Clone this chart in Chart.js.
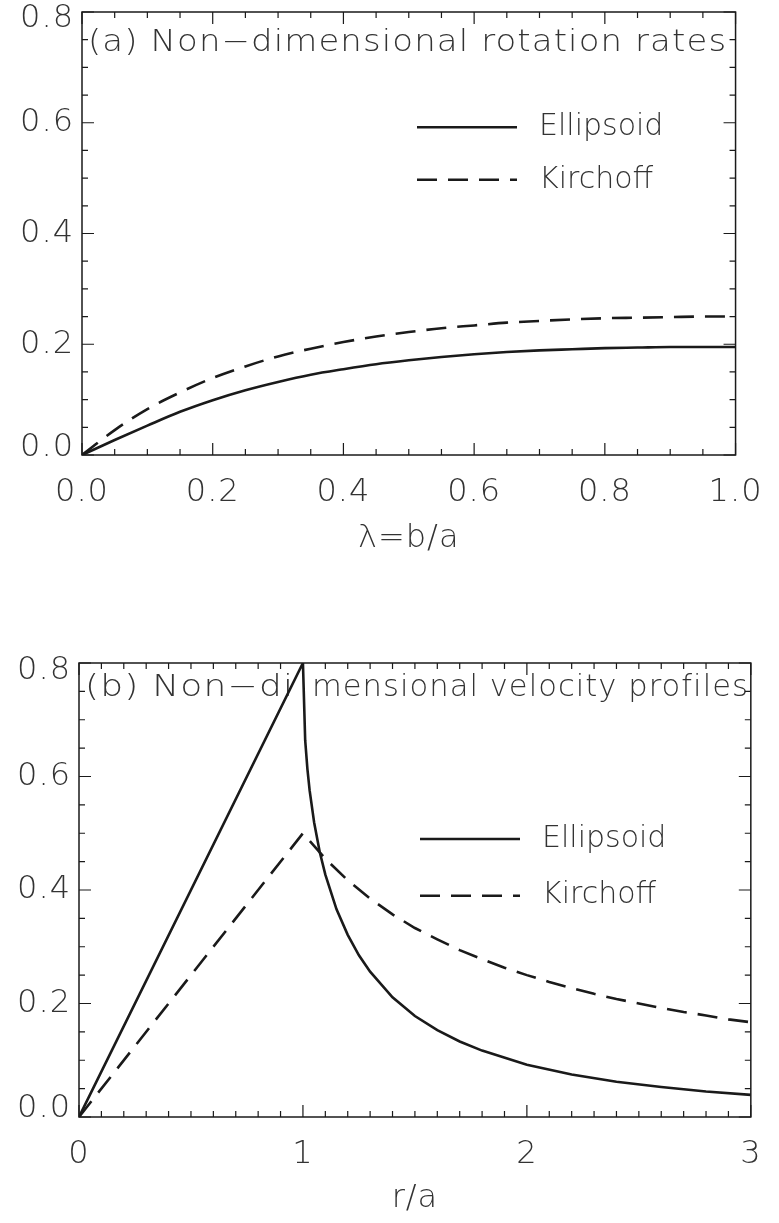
<!DOCTYPE html>
<html>
<head>
<meta charset="utf-8">
<script src="https://cdn.jsdelivr.net/npm/chart.js@4.4.0/dist/chart.umd.min.js"></script>
<style>
  html, body { margin: 0; padding: 0; background: #fff; }
  #wrapA { position: absolute; left: 0; top: -20px; width: 779px; height: 585px; }
  #wrapB { position: absolute; left: 0; top: 600px; width: 779px; height: 623px; }
</style>
</head>
<body>
<div id="wrapA"><canvas id="chartA"></canvas></div>
<div id="wrapB"><canvas id="chartB"></canvas></div>
<script>
// panel (a): rotation rates vs lambda = b/a
const lambdaVals    = [0, 0.05, 0.1, 0.15, 0.2, 0.25, 0.3, 0.35, 0.4, 0.45, 0.5, 0.55, 0.6, 0.65, 0.7, 0.75, 0.8, 0.85, 0.9, 0.95, 1.0]
const ellipsoidRate = [0, 0.027, 0.053, 0.078, 0.099, 0.117, 0.132, 0.145, 0.155, 0.164, 0.171, 0.177, 0.182, 0.186, 0.189, 0.191, 0.193, 0.194, 0.195, 0.195, 0.195]
const kirchoffRate  = [0, 0.045, 0.083, 0.113, 0.139, 0.160, 0.178, 0.192, 0.204, 0.214, 0.222, 0.229, 0.234, 0.239, 0.242, 0.245, 0.247, 0.248, 0.249, 0.250, 0.250]

// panel (b): velocity profiles vs r/a
const rEllipsoid    = [0, 1, 1.01, 1.02, 1.03, 1.05, 1.075, 1.1, 1.15, 1.2, 1.25, 1.3, 1.4, 1.5, 1.6, 1.7, 1.8, 2.0, 2.2, 2.4, 2.6, 2.8, 3.0]
const ellipsoidVel  = [0, 0.8, 0.664, 0.613, 0.575, 0.519, 0.467, 0.427, 0.366, 0.321, 0.285, 0.256, 0.211, 0.178, 0.153, 0.133, 0.117, 0.092, 0.075, 0.062, 0.053, 0.045, 0.039]
const rKirchoff     = [0, 1, 1.1, 1.2, 1.3, 1.4, 1.5, 1.6, 1.7, 1.8, 1.9, 2.0, 2.1, 2.2, 2.3, 2.4, 2.5, 2.6, 2.7, 2.8, 2.9, 3.0]
const kirchoffVel   = [0, 0.5, 0.455, 0.417, 0.385, 0.357, 0.333, 0.313, 0.294, 0.278, 0.263, 0.25, 0.238, 0.227, 0.217, 0.208, 0.2, 0.192, 0.185, 0.179, 0.172, 0.167]

const yTicks = [0, 0.2, 0.4, 0.6, 0.8]
const seriesNames = ['Ellipsoid', 'Kirchoff']

const FONT = "'DejaVu Sans', 'Liberation Sans', sans-serif"
const INK = '#1a1a1a'
const TXT = '#333'
const DASH = [20, 11]

function pts(xs, ys) {
    return xs.map((x, i) => ({ x: x, y: ys[i] }))
}

// frame, inward ticks (IDL style), panel title and legend
const idlFrame = {
    id: 'idlFrame',
    beforeDraw(chart) {
        // a little extra spacing, the Hershey font is wider
        chart.ctx.letterSpacing = '1px'
    },
    beforeDatasetsDraw(chart, args, o) {
        const ctx = chart.ctx
        const a = chart.chartArea
        const x = chart.scales.x
        ctx.save()
        ctx.fillStyle = TXT
        ctx.font = '200 30px ' + FONT
        ctx.textBaseline = 'middle'
        ctx.textAlign = 'left'
        o.title.forEach(p => {
            const x0 = (p.atX !== undefined) ? x.getPixelForValue(p.atX) + p.dx : a.left + p.dx
            ctx.save()
            ctx.translate(x0, a.top + o.titleDy)
            ctx.scale(p.sx, 1)
            ctx.fillText(p.text, 0, 0)
            ctx.restore()
        })
        ctx.restore()
    },
    afterDraw(chart, args, o) {
        const ctx = chart.ctx
        const a = chart.chartArea
        const x = chart.scales.x, y = chart.scales.y
        ctx.save()
        ctx.strokeStyle = INK
        ctx.lineWidth = 1.5
        ctx.strokeRect(a.left, a.top, a.right - a.left, a.bottom - a.top)
        ctx.lineWidth = 1.2
        ctx.beginPath()
        for (let i = 0; i <= o.xCount; i++) {
            const v = o.xMin + i * o.xMinor
            const px = x.getPixelForValue(v)
            const len = (i % o.xEvery === 0) ? 12 : 6
            ctx.moveTo(px, a.bottom); ctx.lineTo(px, a.bottom - len)
            ctx.moveTo(px, a.top); ctx.lineTo(px, a.top + len)
        }
        for (let i = 0; i <= 16; i++) {
            const py = y.getPixelForValue(i * 0.05)
            const len = (i % 4 === 0) ? 12 : 6
            ctx.moveTo(a.left, py); ctx.lineTo(a.left + len, py)
            ctx.moveTo(a.right, py); ctx.lineTo(a.right - len, py)
        }
        ctx.stroke()

        // legend
        ctx.letterSpacing = '0px'
        ctx.font = '200 30px ' + FONT
        ctx.textBaseline = 'middle'
        ctx.textAlign = 'left'
        chart.data.datasets.forEach((ds, i) => {
            const py = y.getPixelForValue(o.legendY[i])
            ctx.strokeStyle = INK
            ctx.lineWidth = 2.6
            ctx.setLineDash(ds.borderDash || [])
            ctx.beginPath()
            ctx.moveTo(o.legendX0, py); ctx.lineTo(o.legendX1, py)
            ctx.stroke()
            ctx.setLineDash([])
            ctx.fillStyle = TXT
            ctx.fillText(ds.label, o.legendX1 + 22, py)
        })
        ctx.restore()
    }
}

function makeChart(canvas, cfg) {
    return new Chart(canvas, {
        type: 'line',
        data: {
            datasets: [{
                label: seriesNames[0],
                data: cfg.solid,
                borderColor: INK,
                borderWidth: 2.6,
                pointRadius: 0,
                tension: cfg.tension,
                cubicInterpolationMode: cfg.mode
            }, {
                label: seriesNames[1],
                data: cfg.dashed,
                borderColor: INK,
                borderWidth: 2.6,
                borderDash: DASH,
                pointRadius: 0,
                tension: cfg.tension,
                cubicInterpolationMode: cfg.mode
            }]
        },
        options: {
            animation: false,
            responsive: true,
            maintainAspectRatio: false,
            layout: { padding: { top: cfg.padTop, right: cfg.padRight, left: 0, bottom: 0 } },
            plugins: {
                legend: { display: false },
                tooltip: { enabled: false },
                idlFrame: cfg.frame
            },
            scales: {
                x: {
                    type: 'linear',
                    min: cfg.xMin, max: cfg.xMax,
                    grid: { display: false, drawTicks: false },
                    border: { display: false },
                    afterFit(s) { s.height = cfg.xHeight },
                    ticks: {
                        stepSize: cfg.xStep,
                        autoSkip: false,
                        maxRotation: 0,
                        padding: 18,
                        color: TXT,
                        font: { family: FONT, size: 32, weight: 200 },
                        callback: cfg.xLabel
                    },
                    title: {
                        display: true,
                        text: cfg.xTitle,
                        color: TXT,
                        padding: { top: 0, bottom: cfg.titlePad },
                        font: { family: FONT, size: 32, weight: 200 }
                    }
                },
                y: {
                    min: 0, max: 0.8,
                    grid: { display: false, drawTicks: false },
                    border: { display: false },
                    afterFit(s) { s.width = cfg.yWidth },
                    afterBuildTicks(s) { s.ticks = yTicks.map(v => ({ value: v })) },
                    ticks: {
                        padding: 8,
                        color: TXT,
                        // end labels are nudged inward, as in the original
                        font: c => ({
                            family: FONT, size: 32, weight: 200,
                            lineHeight: (c.tick && (c.tick.value === 0 || c.tick.value === 0.8)) ? cfg.endShift : 1.2
                        }),
                        callback: v => v === 0.8 ? ['', v.toFixed(1)] : v === 0 ? [v.toFixed(1), ''] : v.toFixed(1)
                    }
                }
            }
        },
        plugins: [idlFrame]
    })
}

makeChart(document.getElementById('chartA'), {
    solid: pts(lambdaVals, ellipsoidRate),
    dashed: pts(lambdaVals, kirchoffRate),
    tension: 0.4, mode: 'monotone',
    padTop: 32, padRight: 28, xHeight: 110, yWidth: 82, endShift: '14px',
    xMin: 0, xMax: 1, xStep: 0.2,
    xLabel: v => v.toFixed(1),
    xTitle: 'λ=b/a', titlePad: 7,
    frame: {
        title: [{ text: '(a) Non−dimensional rotation rates', dx: 6, sx: 1.13 }],
        titleDy: 31,
        xMin: 0, xMinor: 0.05, xCount: 20, xEvery: 4,
        legendY: [0.592, 0.497], legendX0: 417, legendX1: 517
    }
})

makeChart(document.getElementById('chartB'), {
    solid: pts(rEllipsoid, ellipsoidVel),
    dashed: pts(rKirchoff, kirchoffVel),
    tension: 0, mode: 'default',
    padTop: 63, padRight: 17, xHeight: 106, yWidth: 79, endShift: '16px',
    xMin: 0, xMax: 3, xStep: 1,
    xLabel: v => String(v),
    xTitle: 'r/a', titlePad: 5,
    frame: {
        title: [
            { text: '(b) Non−di', dx: 6, sx: 1.2 },
            { text: 'mensional velocity profiles', atX: 1, dx: 9, sx: 1.02 }
        ],
        titleDy: 25,
        xMin: 0, xMinor: 0.1, xCount: 30, xEvery: 10,
        legendY: [0.49, 0.39], legendX0: 420, legendX1: 520
    }
})
</script>
</body>
</html>
